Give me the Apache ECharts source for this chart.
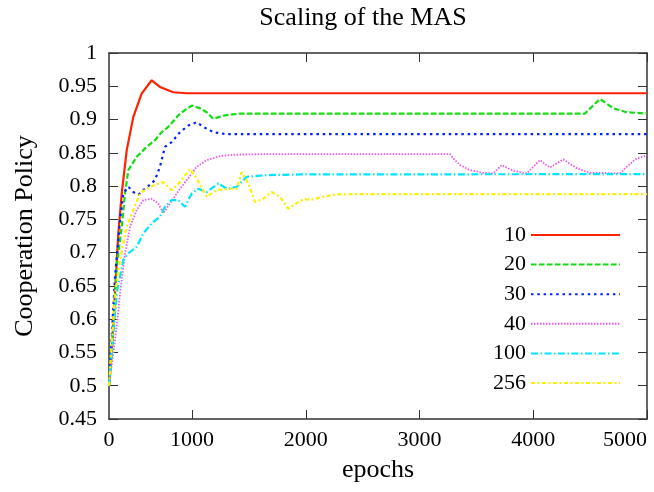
<!DOCTYPE html>
<html>
<head>
<meta charset="utf-8">
<script src="https://cdn.jsdelivr.net/npm/echarts@6/dist/echarts.min.js"></script>
<style>
  html, body { margin: 0; padding: 0; background: #fff; }
  #chart { width: 654px; height: 492px; }
</style>
</head>
<body>
<div id="chart"></div>
<script>
// epochs / cooperation policy, one array per number of agents
var run10 = [[270,0.5],[294,0.55],[323,0.64],[352,0.729],[382,0.789],[426,0.854],[484,0.904],[557,0.939],
	[645,0.959],[718,0.949],[835,0.941],[953,0.9395],[5000,0.9395]];
var run20 = [[270,0.5],[308,0.589],[338,0.68],[382,0.739],[411,0.789],[440,0.824],[514,0.844],[601,0.859],
	[674,0.869],[733,0.881],[791,0.889],[894,0.909],[997,0.921],[1070,0.917],[1129,0.911],[1187,0.901],
	[1275,0.906],[1422,0.909],[4454,0.909],[4586,0.931],[4703,0.917],[4821,0.911],[5000,0.909]];
var run30 = [[270,0.5],[323,0.664],[367,0.749],[396,0.789],[440,0.799],[484,0.791],[528,0.787],[572,0.794],
	[630,0.802],[674,0.809],[718,0.829],[762,0.859],[821,0.866],[894,0.881],[967,0.891],[1041,0.896],
	[1099,0.889],[1187,0.881],[1305,0.878],[5000,0.878]];
var run40 = [[270,0.5],[338,0.589],[367,0.639],[411,0.699],[455,0.739],[514,0.764],[572,0.779],[645,0.781],
	[703,0.774],[747,0.759],[806,0.774],[865,0.789],[953,0.809],[1041,0.829],[1129,0.839],[1246,0.845],
	[1363,0.847],[1600,0.848],[3268,0.848],[3297,0.8415],[3356,0.8315],[3444,0.824],[3560,0.82],[3648,0.819],
	[3722,0.8315],[3824,0.823],[3942,0.819],[4059,0.839],[4147,0.828],[4264,0.84],[4381,0.827],[4498,0.82],
	[4762,0.819],[4821,0.829],[4909,0.8415],[5000,0.846]];
var run100 = [[270,0.5],[338,0.639],[396,0.689],[440,0.699],[514,0.709],[572,0.729],[645,0.744],[718,0.754],
	[762,0.769],[821,0.779],[879,0.779],[938,0.769],[997,0.789],[1055,0.796],[1129,0.791],[1231,0.804],
	[1305,0.796],[1393,0.799],[1481,0.814],[1657,0.8165],[1949,0.8175],[5000,0.818]];
var run256 = [[270,0.5],[323,0.639],[367,0.689],[426,0.739],[484,0.764],[543,0.789],[601,0.796],[674,0.802],
	[747,0.806],[821,0.794],[894,0.806],[982,0.826],[1041,0.811],[1129,0.784],[1216,0.794],[1334,0.796],
	[1393,0.796],[1437,0.821],[1495,0.804],[1554,0.776],[1627,0.781],[1700,0.791],[1773,0.784],[1846,0.766],
	[1934,0.776],[1978,0.78],[2066,0.78],[2154,0.784],[2272,0.7875],[2500,0.788],[5000,0.788]];

var xStart = 270; // left edge of the plot, labelled 0
var xTicks = [1000, 2000, 3000, 4000, 5000];
var xLabels = [270, 1000, 2000, 3000, 4000, 5000];

var font = 'Liberation Serif';

function mkSeries(name, data, color, width, dash) {
	return {
		name: name,
		type: 'line',
		symbol: 'none',
		data: data,
		lineStyle: {color: color, width: width, type: dash},
		itemStyle: {color: color}
	};
}

var chart = echarts.init(document.getElementById('chart'));
chart.setOption({
	animation: false,
	title: {
		text: 'Scaling of the MAS',
		left: 358, top: 0, textAlign: 'center',
		textStyle: {fontFamily: font, fontSize: 26, fontWeight: 'normal', color: '#000'}
	},
	grid: {left: 109, right: 7, top: 53, bottom: 73},
	legend: {
		orient: 'vertical', align: 'right',
		right: 28, top: 219,
		itemWidth: 89, itemHeight: 14, itemGap: 7.6,
		itemStyle: {opacity: 0},
		textStyle: {fontFamily: font, fontSize: 22, lineHeight: 22, color: '#000'},
		data: ['10', '20', '30', '40', '100', '256']
	},
	xAxis: [{
		type: 'value', min: xStart, max: 5000,
		name: 'epochs', nameLocation: 'middle', nameGap: 38,
		nameTextStyle: {fontFamily: font, fontSize: 26, color: '#000'},
		axisLine: {lineStyle: {color: '#333', width: 1.5}},
		axisTick: {inside: true, length: 9, customValues: xTicks, lineStyle: {color: '#333'}},
		axisLabel: {customValues: xLabels, fontFamily: font, fontSize: 22, color: '#000', margin: 10,
			alignMaxLabel: 'right',
			formatter: function (v) { return v < 1000 ? '0' : String(v); }},
		splitLine: {show: false}
	}, {
		type: 'value', min: xStart, max: 5000, position: 'top',
		axisLine: {lineStyle: {color: '#333', width: 1.5}},
		axisTick: {inside: true, length: 9, customValues: xTicks, lineStyle: {color: '#333'}},
		axisLabel: {show: false},
		splitLine: {show: false}
	}],
	yAxis: [{
		type: 'value', min: 0.45, max: 1, interval: 0.05,
		name: 'Cooperation Policy', nameLocation: 'middle', nameGap: 71,
		nameTextStyle: {fontFamily: font, fontSize: 26, color: '#000'},
		axisLine: {show: true, lineStyle: {color: '#333', width: 1.5}},
		axisTick: {show: true, inside: true, length: 9, lineStyle: {color: '#333'}},
		axisLabel: {fontFamily: font, fontSize: 22, color: '#000', margin: 12},
		splitLine: {show: false}
	}, {
		type: 'value', min: 0.45, max: 1, interval: 0.05, position: 'right',
		axisLine: {show: true, lineStyle: {color: '#333', width: 1.5}},
		axisTick: {show: true, inside: true, length: 9, lineStyle: {color: '#333'}},
		axisLabel: {show: false},
		splitLine: {show: false}
	}],
	series: [
		mkSeries('10', run10, '#ff2200', 2.2, 'solid'),
		mkSeries('20', run20, '#11dd11', 2.2, [5.5, 2.5]),
		mkSeries('30', run30, '#0022ff', 2.2, [2.5, 3.8]),
		mkSeries('40', run40, '#ee55ee', 1.8, [1.5, 1.5]),
		mkSeries('100', run100, '#00e5ff', 2.2, [7, 2.5, 1.5, 2.5]),
		mkSeries('256', run256, '#ffee00', 2.2, [4, 2.5, 2, 2.5])
	]
});
</script>
</body>
</html>
